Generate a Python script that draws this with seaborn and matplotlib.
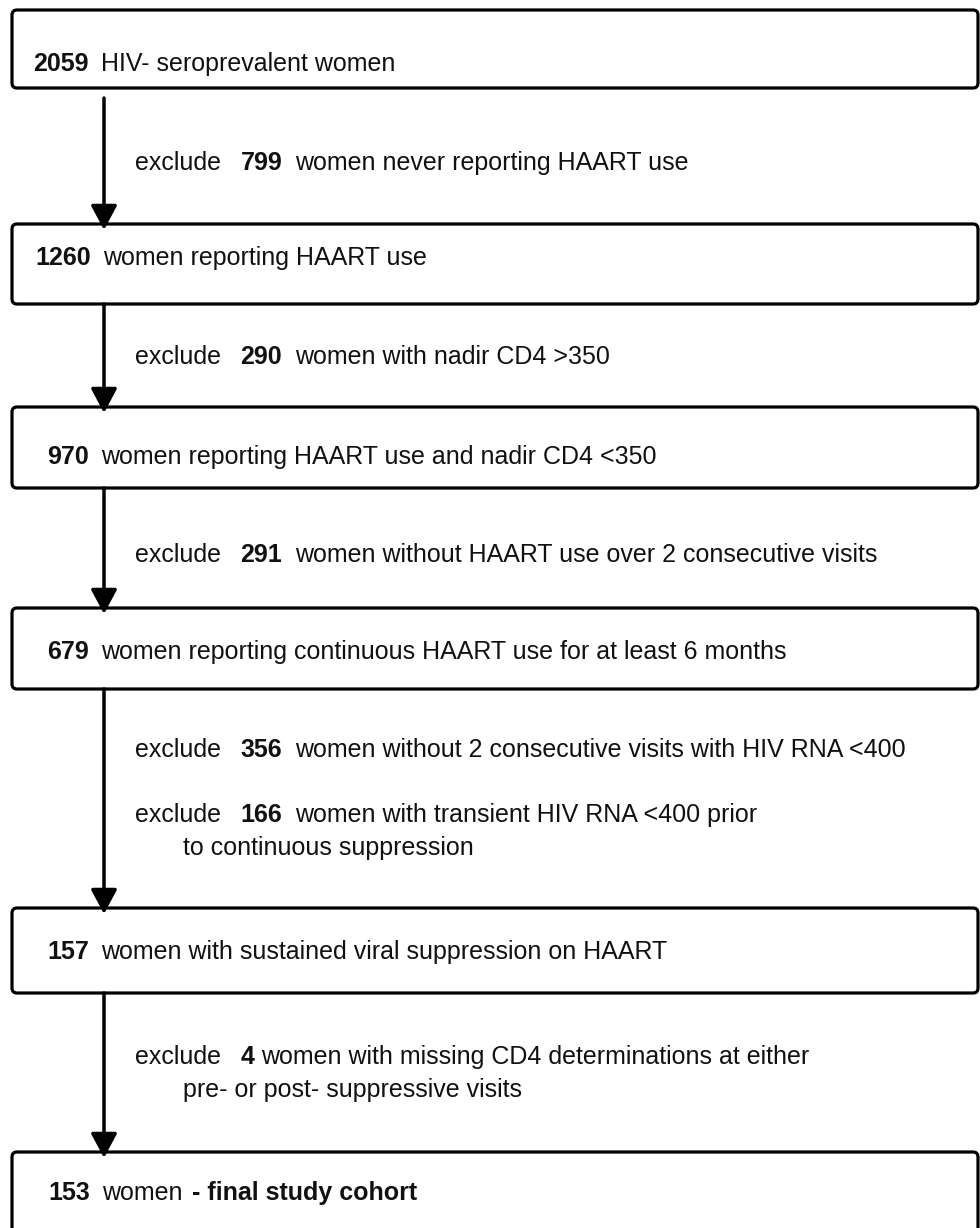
import matplotlib
matplotlib.use("Agg")
import matplotlib.pyplot as plt
from matplotlib.patches import FancyBboxPatch
import seaborn as sns

# Flow data: remaining cohort at each step and who was excluded in between
box_counts = ["2059", "1260", "970", "679", "157", "153"]
box_labels = [
    "HIV- seroprevalent women",
    "women reporting HAART use",
    "women reporting HAART use and nadir CD4 <350",
    "women reporting continuous HAART use for at least 6 months",
    "women with sustained viral suppression on HAART",
    "women",
]
final_suffix = "- final study cohort"

# exclusions between consecutive boxes (list of items per gap)
excl_counts = [["799"], ["290"], ["291"], ["356", "166"], ["4"]]
excl_labels = [
    [["women never reporting HAART use"]],
    [["women with nadir CD4 >350"]],
    [["women without HAART use over 2 consecutive visits"]],
    [["women without 2 consecutive visits with HIV RNA <400"],
     ["women with transient HIV RNA <400 prior", "to continuous suppression"]],
    [["women with missing CD4 determinations at either", "pre- or post- suppressive visits"]],
]

# layout (pixels, y downwards)
box_top = [10, 224, 407, 608, 908, 1152]
box_bot = [88, 304, 488, 689, 993, 1240]
box_text_y = [64, 258, 457, 652, 952, 1193]
box_text_x = [33, 35, 47, 47, 47, 48]
excl_y = [[163], [357], [555], [750, 815], [1057]]
arrow_start = [98, 304, 488, 689, 993]
box_x0, box_x1 = 12, 978
arrow_x = 104
fs = 18

sns.set_theme(style="white")
plt.rcParams['font.family'] = ['Liberation Sans', 'DejaVu Sans']

fig = plt.figure(figsize=(9.8, 12.28), dpi=100)
ax = fig.add_axes([0, 0, 1, 1])
ax.set_xlim(0, 980)
ax.set_ylim(1228, 0)
ax.axis("off")


def chain(x, y, pieces):
    # place text pieces one after another on the same line
    prev = ax.text(x, y, pieces[0][0], fontsize=fs, fontweight=pieces[0][1],
                   va="center", ha="left", color="#111111", zorder=3)
    for txt, weight, gap in pieces[1:]:
        prev = ax.annotate(txt, xy=(1, 0), xycoords=prev, xytext=(gap, 0),
                           textcoords="offset points", fontsize=fs,
                           fontweight=weight, va="bottom", ha="left",
                           color="#111111", zorder=3)


# boxes
for i, (cnt, lab) in enumerate(zip(box_counts, box_labels)):
    rect = FancyBboxPatch((box_x0, box_top[i]), box_x1 - box_x0,
                          box_bot[i] - box_top[i],
                          boxstyle="round,pad=0,rounding_size=5",
                          fc="white", ec="black", lw=2.3, zorder=2)
    ax.add_patch(rect)
    pieces = [(cnt, "bold", 0), (lab, "normal", 9)]
    if i == len(box_counts) - 1:
        pieces.append((final_suffix, "bold", 7))
    chain(box_text_x[i], box_text_y[i], pieces)

# arrows
for i in range(len(box_counts) - 1):
    ax.annotate("", xy=(arrow_x, box_top[i + 1] + 6), xytext=(arrow_x, arrow_start[i]),
                arrowprops=dict(arrowstyle="-|>,head_length=1.5,head_width=0.8",
                                mutation_scale=10, lw=2.5, color="black",
                                shrinkA=0, shrinkB=0),
                zorder=4)

# exclusion notes
for g in range(len(excl_counts)):
    for k, cnt in enumerate(excl_counts[g]):
        lines = excl_labels[g][k]
        y = excl_y[g][k]
        gap_after = 5 if len(cnt) == 1 else 9
        chain(135, y, [("exclude", "normal", 0), (cnt, "bold", 14),
                       (lines[0], "normal", gap_after)])
        for j, extra in enumerate(lines[1:]):
            ax.text(183, y + 33 * (j + 1), extra, fontsize=fs, va="center",
                    ha="left", color="#111111")

fig.savefig("out.png", dpi=100)
